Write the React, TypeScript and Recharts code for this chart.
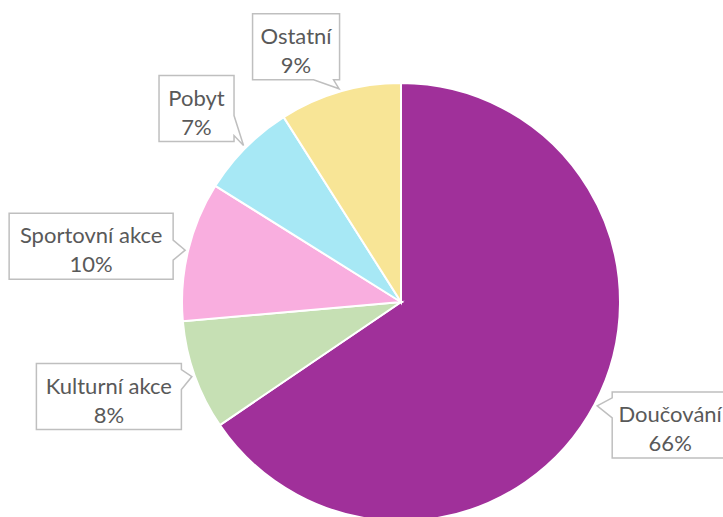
import { PieChart, Pie, Cell } from "recharts";

const categories = ["Doučování", "Kulturní akce", "Sportovní akce", "Pobyt", "Ostatní"];
const shares = [65.5, 8.1, 10.3, 7.1, 9.0];
const colors = ["#A0309A", "#C6E0B4", "#F9AEDF", "#A7E8F5", "#F8E596"];

// callout box placement, relative to the point just outside each slice
const calloutStyle = [
  { w: 116, dx: 73, dy: 19 },
  { w: 145, dx: -83, dy: 20 },
  { w: 164, dx: -94, dy: -4 },
  { w: 75, dx: -47, dy: -37 },
  { w: 87, dx: -43, dy: -42 },
];

const data = categories.map((name, i) => ({ name, value: shares[i] }));

const RADIAN = Math.PI / 180;
const BOX_H = 66;

function calloutPath(l: number, t: number, r: number, b: number, tx: number, ty: number) {
  const hw = 10;
  const m = 16;
  const clamp = (v: number, lo: number, hi: number) => Math.max(lo, Math.min(hi, v));
  const ox = tx > r ? tx - r : tx < l ? l - tx : 0;
  const oy = ty > b ? ty - b : ty < t ? t - ty : 0;
  let side: string;
  if (ox >= oy) side = tx > r ? "right" : "left";
  else side = ty > b ? "bottom" : "top";
  const pts: number[][] = [[l, t]];
  if (side === "top") {
    const c = clamp(tx, l + m, r - m);
    pts.push([c - hw, t], [tx, ty], [c + hw, t]);
  }
  pts.push([r, t]);
  if (side === "right") {
    const c = clamp(ty, t + m, b - m);
    pts.push([r, c - hw], [tx, ty], [r, c + hw]);
  }
  pts.push([r, b]);
  if (side === "bottom") {
    const c = clamp(tx, l + m, r - m);
    pts.push([c + hw, b], [tx, ty], [c - hw, b]);
  }
  pts.push([l, b]);
  if (side === "left") {
    const c = clamp(ty, t + m, b - m);
    pts.push([l, c + hw], [tx, ty], [l, c - hw]);
  }
  return "M" + pts.map((p) => p.join(",")).join("L") + "Z";
}

function renderCallout(props: any) {
  const { cx, cy, midAngle, outerRadius, index, percent, name } = props;
  const st = calloutStyle[index];
  const tx = cx + (outerRadius + 3) * Math.cos(-midAngle * RADIAN);
  const ty = cy + (outerRadius + 3) * Math.sin(-midAngle * RADIAN);
  const bx = tx + st.dx;
  const by = ty + st.dy;
  const l = bx - st.w / 2;
  const r = bx + st.w / 2;
  const t = by - BOX_H / 2;
  const b = by + BOX_H / 2;
  return (
    <g key={`callout-${index}`}>
      <path d={calloutPath(l, t, r, b, tx, ty)} fill="#ffffff" stroke="#BFBFBF" strokeWidth={1.5} />
      <text x={bx} y={t + 30} textAnchor="middle" fill="#595959" fontSize={22} fontFamily="Lato, sans-serif">
        {name}
      </text>
      <text x={bx} y={t + 59} textAnchor="middle" fill="#595959" fontSize={22} fontFamily="Lato, sans-serif">
        {`${Math.round(percent * 100)}%`}
      </text>
    </g>
  );
}

export default function App() {
  return (
    <div style={{ position: "absolute", left: 0, top: 0, width: 723, height: 517, background: "#fff" }}>
      <PieChart width={723} height={517} margin={{ top: 0, right: 0, bottom: 0, left: 0 }}>
        <Pie
          data={data}
          dataKey="value"
          nameKey="name"
          cx={401}
          cy={302}
          outerRadius={219}
          startAngle={90}
          endAngle={-270}
          stroke="#ffffff"
          strokeWidth={2}
          label={renderCallout}
          labelLine={false}
          isAnimationActive={false}
        >
          {data.map((d, i) => (
            <Cell key={d.name} fill={colors[i]} />
          ))}
        </Pie>
      </PieChart>
    </div>
  );
}
